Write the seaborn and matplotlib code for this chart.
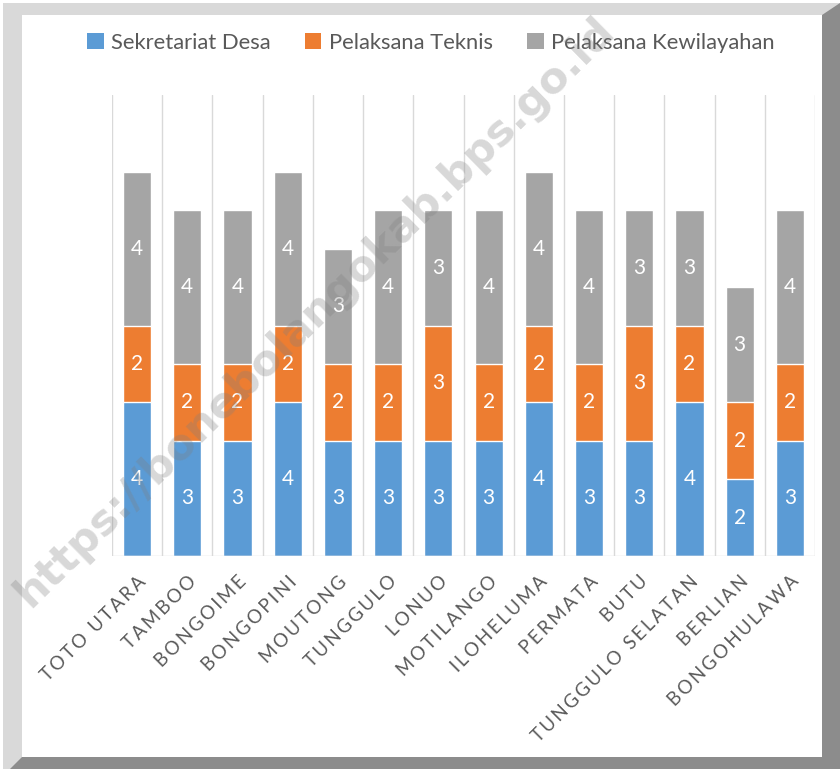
import matplotlib
matplotlib.use("Agg")
import matplotlib.pyplot as plt
import seaborn as sns
import pandas as pd
import numpy as np
from matplotlib.patches import Polygon, Patch

categories = ["TOTO UTARA", "TAMBOO", "BONGOIME", "BONGOPINI", "MOUTONG", "TUNGGULO",
              "LONUO", "MOTILANGO", "ILOHELUMA", "PERMATA", "BUTU", "TUNGGULO SELATAN",
              "BERLIAN", "BONGOHULAWA"]
sekretariat = [4, 3, 3, 4, 3, 3, 3, 3, 4, 3, 3, 4, 2, 3]
teknis = [2, 2, 2, 2, 2, 2, 3, 2, 2, 2, 3, 2, 2, 2]
kewilayahan = [4, 4, 4, 4, 3, 4, 3, 4, 4, 4, 3, 3, 3, 4]
series_names = ["Sekretariat Desa", "Pelaksana Teknis", "Pelaksana Kewilayahan"]
colors = ["#5B9BD5", "#ED7D31", "#A5A5A5"]

sns.set_theme(style="white")
plt.rcParams["font.family"] = ["Lato", "DejaVu Sans"]

W, H = 840, 769
fig = plt.figure(figsize=(W / 100, H / 100), dpi=100)

def px(pts):
    return [(x / W, 1 - y / H) for x, y in pts]

# frame: light bevel (top/left), dark shadow (bottom/right)
fig.add_artist(Polygon(px([(3, 3), (840, 3), (840, 769), (3, 769)]), closed=True,
                       transform=fig.transFigure, facecolor="#d9d9d9", edgecolor="none", zorder=0))
fig.add_artist(Polygon(px([(822, 15), (840, 3), (840, 769), (10, 769), (22, 757), (822, 757)]),
                       closed=True, transform=fig.transFigure, facecolor="#8c8c8c",
                       edgecolor="none", zorder=0))
fig.add_artist(Polygon(px([(22, 15), (822, 15), (822, 757), (22, 757)]), closed=True,
                       transform=fig.transFigure, facecolor="white", edgecolor="none", zorder=0))

ax = fig.add_axes([112 / W, 1 - 556 / H, (815 - 112) / W, (556 - 95) / H])
ax.set_facecolor("none")

df = pd.DataFrame({"cat": categories, "s": sekretariat, "t": teknis, "k": kewilayahan})
df["st"] = df["s"] + df["t"]
df["total"] = df["st"] + df["k"]

sns.barplot(data=df, x="cat", y="total", color=colors[2], width=0.56, saturation=1,
            ax=ax, zorder=3)
sns.barplot(data=df, x="cat", y="st", color=colors[1], width=0.56, saturation=1,
            ax=ax, zorder=3)
sns.barplot(data=df, x="cat", y="s", color=colors[0], width=0.56, saturation=1,
            ax=ax, zorder=3)

for i in range(len(categories)):
    s, t, k = sekretariat[i], teknis[i], kewilayahan[i]
    for val, y in [(s, s / 2), (t, s + t / 2), (k, s + t + k / 2)]:
        ax.text(i, y, str(val), ha="center", va="center", color="white",
                fontsize=15, zorder=5)

ax.set_ylim(0, 12)
ax.set_xlim(-0.5, len(categories) - 0.5)
ax.set_yticks([])
ax.set_xlabel("")
ax.set_ylabel("")
for b in np.arange(-0.5, len(categories), 1.0):
    ax.axvline(b, color="#d9d9d9", lw=1, zorder=1)
ax.axhline(0, color="#d9d9d9", lw=1, zorder=4)
for sp in ax.spines.values():
    sp.set_visible(False)

ax.set_xticks(range(len(categories)))
spaced = ["\u2009".join(list(c)) for c in categories]
ax.set_xticklabels(spaced, rotation=45, ha="right", rotation_mode="anchor",
                   fontsize=13.5, color="#595959")
ax.tick_params(axis="x", length=0, pad=12)

handles = [Patch(facecolor=c, edgecolor="none") for c in colors]
fig.legend(handles, series_names, loc="center", bbox_to_anchor=(431 / W, 1 - 43 / H),
           ncol=3, frameon=False, fontsize=15.8, labelcolor="#595959",
           handlelength=0.75, handleheight=0.75, handletextpad=0.35, columnspacing=1.55)

# watermark
fig.text(315 / W, 1 - 312 / H, "https://bonebolangokab.bps.go.id", rotation=44.5,
         ha="center", va="center", fontsize=31, fontweight="bold", color="#7f7f7f",
         alpha=0.3, zorder=10, family=["DejaVu Sans"])

fig.savefig("out.png", dpi=100)
